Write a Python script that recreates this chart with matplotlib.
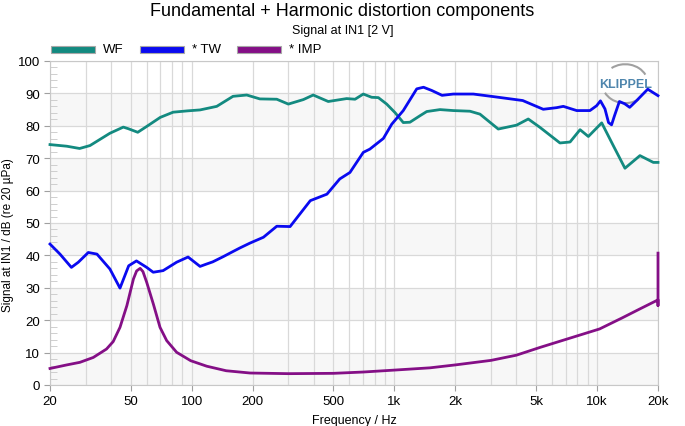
import matplotlib
matplotlib.use("Agg")
import matplotlib.pyplot as plt
from matplotlib.patches import Rectangle, Arc
from matplotlib.ticker import FixedLocator, NullFormatter

plt.rcParams['font.family'] = ['Liberation Sans', 'DejaVu Sans']

# ---- data ----
wf_f = [20, 24.2, 28, 31.5, 39.5, 46, 48.7, 54.2, 60, 70, 81, 95, 110, 133, 160, 187,
        217, 263, 300, 356, 398, 472, 582, 640, 703, 773, 834, 917, 1007, 1107, 1194,
        1338, 1445, 1680, 1955, 2362, 2646, 3257, 4012, 4580, 5235, 6565, 7364, 8250,
        9065, 10550, 12030, 13740, 16290, 18970, 20000]
wf_db = [74.2, 73.7, 73.0, 73.9, 77.7, 79.6, 79.1, 78.0, 79.8, 82.6, 84.2, 84.6, 84.9, 86.0, 89.1, 89.5,
         88.3, 88.2, 86.7, 88.1, 89.5, 87.5, 88.4, 88.2, 89.8, 88.8, 88.7, 86.7, 84.1, 81.0, 81.1,
         83.1, 84.4, 85.0, 84.7, 84.5, 83.6, 79.0, 80.2, 82.1, 79.5, 74.7, 75.0, 78.8,
         76.7, 80.9, 73.9, 66.9, 70.8, 68.7, 68.7]

tw_f = [20, 22.4, 25.5, 27.6, 30.9, 34.1, 39.5, 44.3, 48.9, 53.4, 60, 64.6, 72.3, 84.3, 96,
        110, 118, 127, 143, 160, 173, 194, 226, 263, 306, 385, 465, 538, 604, 703, 757, 883,
        971, 1107, 1290, 1393, 1530, 1720, 1955, 2454, 3087, 4300, 5430, 6325, 6820, 7943,
        9230, 9960, 10400, 10950, 11400, 11800, 12200, 12900, 13700, 14500, 15700, 17800, 20000]
tw_db = [43.5, 40.4, 36.3, 37.9, 40.9, 40.4, 35.8, 29.9, 36.8, 38.3, 36.3, 34.8, 35.3, 37.9, 39.5,
         36.6, 37.3, 38.0, 39.6, 41.2, 42.3, 43.8, 45.6, 49.0, 48.9, 56.9, 58.9, 63.6, 65.6, 71.8, 72.8, 76.1,
         80.5, 84.7, 91.4, 91.9, 90.9, 89.4, 89.8, 89.8, 89.0, 87.8, 85.1, 85.6, 86.0, 84.7,
         84.7, 86.2, 87.7, 85.2, 81.0, 80.3, 83.1, 87.5, 86.8, 85.7, 87.8, 91.3, 89.3]

imp_f = [20, 24.2, 28.1, 32.7, 38, 41, 44.3, 47.9, 51.6, 53.5, 55.7, 57.5, 60, 64.7, 69.8, 75.3,
         84.3, 98.9, 118.7, 148, 194, 300, 500, 700, 1000, 1500, 2000, 3000, 4000, 5235,
         7745, 10300, 13300, 16300, 19600, 20000, 20000, 20000]
imp_db = [5.1, 6.2, 7.0, 8.5, 11.1, 13.4, 17.8, 24.5, 32.7, 35.2, 36.0, 35.0, 31.7, 25.0, 17.8, 13.7,
          10.1, 7.5, 5.8, 4.4, 3.7, 3.5, 3.6, 4.0, 4.6, 5.3, 6.2, 7.6, 9.2, 11.6,
          14.9, 17.3, 20.7, 23.5, 26.0, 26.3, 24.5, 40.7]

x_ticks = [20, 50, 100, 200, 500, 1000, 2000, 5000, 10000, 20000]
x_labels = ["20", "50", "100", "200", "500", "1k", "2k", "5k", "10k", "20k"]
y_ticks = list(range(0, 101, 10))

series = [("WF", wf_f, wf_db, "#138a80"),
          ("* TW", tw_f, tw_db, "#0a0af0"),
          ("* IMP", imp_f, imp_db, "#840f86")]

W, H = 685, 427
fig = plt.figure(figsize=(W / 100, H / 100), dpi=100)
ax = fig.add_axes([50 / W, 1 - 386 / H, 608 / W, 324 / H])

ax.set_xscale("log")
ax.set_xlim(20, 20000)
ax.set_ylim(0, 100)

# alternating bands
for lo in range(0, 100, 20):
    ax.axhspan(lo, lo + 10, color="#f7f7f7", zorder=0, lw=0)
ax.axhspan(80, 90, color="#f7f7f7", zorder=0, lw=0)

minor_x = [m * d for d in (10, 100, 1000, 10000) for m in range(2, 10)
           if 20 < m * d < 20000 and m * d not in x_ticks]
ax.xaxis.set_major_locator(FixedLocator(x_ticks))
ax.xaxis.set_minor_locator(FixedLocator(minor_x))
ax.xaxis.set_minor_formatter(NullFormatter())
ax.set_xticklabels(x_labels)
ax.set_yticks(y_ticks)
ax.yaxis.set_minor_locator(FixedLocator([v for v in range(0, 101, 2) if v % 10]))

ax.grid(True, which="major", color="#d9d9d9", lw=0.9, zorder=1)
ax.grid(True, which="minor", axis="x", color="#d9d9d9", lw=0.9, zorder=1)
ax.tick_params(axis="both", which="major", length=4, color="#a0a0a0", labelsize=9.5,
               labelcolor="#000000", pad=3)
ax.tick_params(axis="y", which="minor", direction="in", length=5, color="#c8c8c8")
ax.tick_params(axis="x", which="minor", length=0)
for s in ax.spines.values():
    s.set_color("#c8c8c8")

for name, f, db, c in series:
    ax.plot(f, db, color=c, lw=2.0, zorder=3, clip_on=False, solid_joinstyle="round")

ax.set_xlabel("Frequency / Hz", fontsize=9, labelpad=5)
fig.text(8 / W, 1 - 235 / H, "Signal at IN1 / dB (re 20 \u00b5Pa)", rotation=90,
         ha="center", va="center", fontsize=8.5)

fig.text(0.5, 1 - 12 / H, "Fundamental + Harmonic distortion components",
         ha="center", va="center", fontsize=13)
fig.text(0.5, 1 - 31 / H, "Signal at IN1 [2 V]", ha="center", va="center", fontsize=9)

# legend row above the plot
leg_x = [51, 140, 237]
for (name, f, db, c), lx in zip(series, leg_x):
    fig.patches.append(Rectangle((lx / W, 1 - 54 / H), 44 / W, 7 / H, transform=fig.transFigure,
                                 facecolor=c, edgecolor="#a8a8a8", lw=0.8))
    fig.text((lx + 52) / W, 1 - 50 / H, name, ha="left", va="center", fontsize=9.5)

# logo (under the curves)
ax.text(0.946, 0.93, "KLIPPEL", transform=ax.transAxes, ha="center", va="center",
        fontsize=9, fontweight="bold", color="#4f86ad", zorder=2)
ax.add_patch(Arc((0.946, 0.93), 0.075, 0.12, theta1=40, theta2=115,
                 transform=ax.transAxes, color="#a0a0a0", lw=1.5, zorder=2))
ax.add_patch(Arc((0.946, 0.93), 0.075, 0.12, theta1=220, theta2=295,
                 transform=ax.transAxes, color="#a0a0a0", lw=1.5, zorder=2))

fig.savefig("out.png", dpi=100)
